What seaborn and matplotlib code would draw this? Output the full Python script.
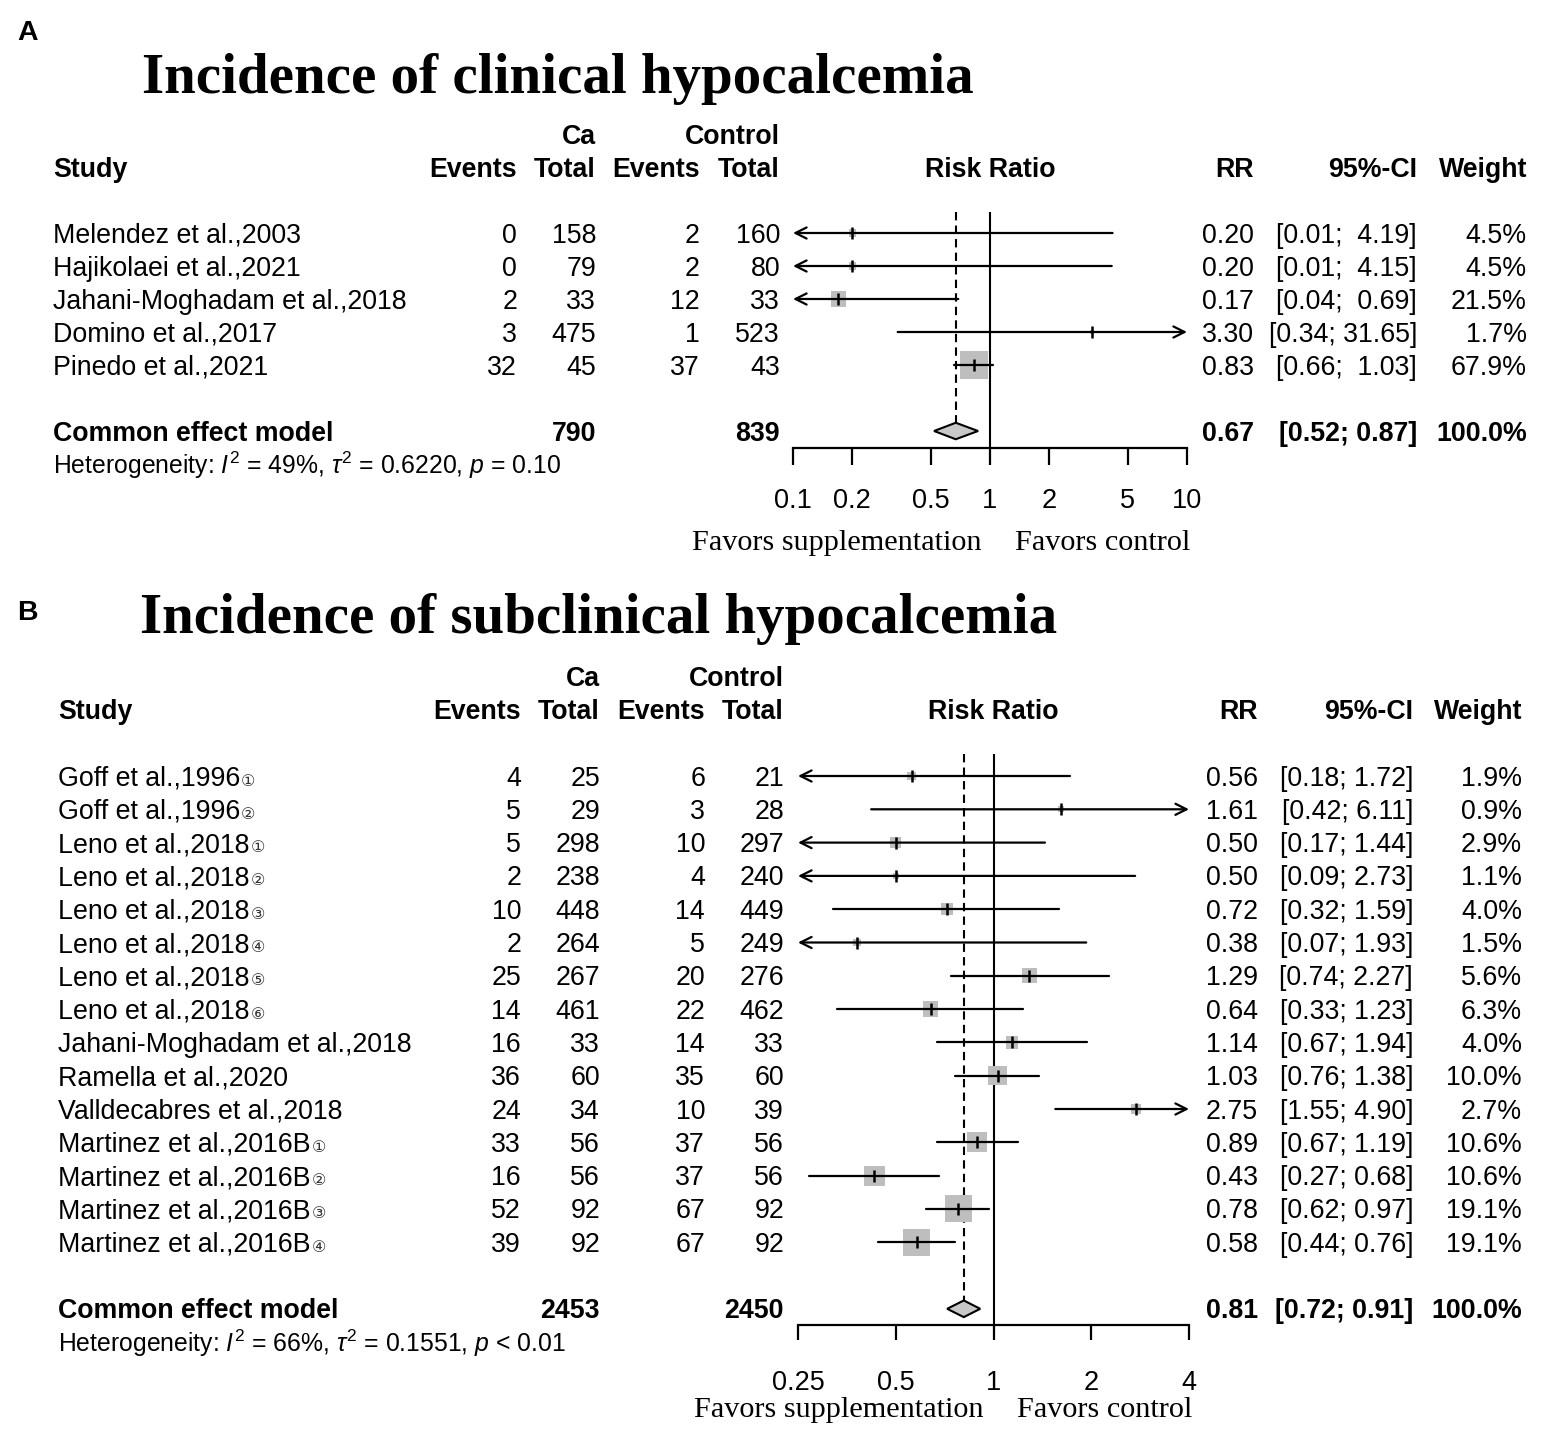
import matplotlib
matplotlib.use("Agg")
import matplotlib.pyplot as plt
import matplotlib.transforms as mtransforms
from matplotlib.patches import Polygon
import seaborn as sns
import numpy as np
import pandas as pd

# ---- panel A: clinical hypocalcemia ----
studies_a = ["Melendez et al.,2003", "Hajikolaei et al.,2021",
             "Jahani-Moghadam et al.,2018", "Domino et al.,2017", "Pinedo et al.,2021"]
marks_a = ["", "", "", "", ""]
ev_ca_a = [0, 0, 2, 3, 32]
tot_ca_a = [158, 79, 33, 475, 45]
ev_ctrl_a = [2, 2, 12, 1, 37]
tot_ctrl_a = [160, 80, 33, 523, 43]
rr_a = [0.20, 0.20, 0.17, 3.30, 0.83]
lo_a = [0.01, 0.01, 0.04, 0.34, 0.66]
hi_a = [4.19, 4.15, 0.69, 31.65, 1.03]
wt_a = [4.5, 4.5, 21.5, 1.7, 67.9]
pooled_a = [0.67, 0.52, 0.87]
totals_a = [790, 839]
het_a = ["49%", "0.6220", "= 0.10"]
ticks_a = [0.1, 0.2, 0.5, 1, 2, 5, 10]

# ---- panel B: subclinical hypocalcemia ----
studies_b = ["Goff et al.,1996", "Goff et al.,1996", "Leno et al.,2018", "Leno et al.,2018",
             "Leno et al.,2018", "Leno et al.,2018", "Leno et al.,2018", "Leno et al.,2018",
             "Jahani-Moghadam et al.,2018", "Ramella et al.,2020", "Valldecabres et al.,2018",
             "Martinez et al.,2016B", "Martinez et al.,2016B", "Martinez et al.,2016B",
             "Martinez et al.,2016B"]
marks_b = ["\u2460", "\u2461", "\u2460", "\u2461", "\u2462", "\u2463", "\u2464", "\u2465",
           "", "", "", "\u2460", "\u2461", "\u2462", "\u2463"]
ev_ca_b = [4, 5, 5, 2, 10, 2, 25, 14, 16, 36, 24, 33, 16, 52, 39]
tot_ca_b = [25, 29, 298, 238, 448, 264, 267, 461, 33, 60, 34, 56, 56, 92, 92]
ev_ctrl_b = [6, 3, 10, 4, 14, 5, 20, 22, 14, 35, 10, 37, 37, 67, 67]
tot_ctrl_b = [21, 28, 297, 240, 449, 249, 276, 462, 33, 60, 39, 56, 56, 92, 92]
rr_b = [0.56, 1.61, 0.50, 0.50, 0.72, 0.38, 1.29, 0.64, 1.14, 1.03, 2.75, 0.89, 0.43, 0.78, 0.58]
lo_b = [0.18, 0.42, 0.17, 0.09, 0.32, 0.07, 0.74, 0.33, 0.67, 0.76, 1.55, 0.67, 0.27, 0.62, 0.44]
hi_b = [1.72, 6.11, 1.44, 2.73, 1.59, 1.93, 2.27, 1.23, 1.94, 1.38, 4.90, 1.19, 0.68, 0.97, 0.76]
wt_b = [1.9, 0.9, 2.9, 1.1, 4.0, 1.5, 5.6, 6.3, 4.0, 10.0, 2.7, 10.6, 10.6, 19.1, 19.1]
pooled_b = [0.81, 0.72, 0.91]
totals_b = [2453, 2450]
het_b = ["66%", "0.1551", "< 0.01"]
ticks_b = [0.25, 0.5, 1, 2, 4]

sns.set_theme(style="white", rc={"text.color": "black", "xtick.color": "black",
                                 "axes.edgecolor": "black", "xtick.bottom": True})
plt.rcParams["font.family"] = ["Liberation Sans", "DejaVu Sans"]
plt.rcParams["mathtext.fontset"] = "custom"
plt.rcParams["mathtext.rm"] = "Liberation Sans"
plt.rcParams["mathtext.it"] = "Liberation Sans:italic"
plt.rcParams["mathtext.bf"] = "Liberation Sans:bold"

W, H = 1544, 1437
fig = plt.figure(figsize=(W / 100, H / 100), dpi=100)
FS = 19.3
GREY = "#BEBEBE"


def fx(px):
    return px / W


def fy(px):
    return 1 - px / H


def fmt_tick(v):
    return ("%g" % v)


def forest(letter, title, lay, study, marks, ev1, n1, ev2, n2, rr, lo, hi, wt,
           pooled, totals, het, ticks):
    n = len(study)
    step = lay["step"]
    top = lay["row0"] - 0.65 * step
    bottom = lay["row0"] + (n + 1.5) * step
    ax = fig.add_axes([fx(lay["x0"]), fy(bottom), fx(lay["x1"] - lay["x0"]), (bottom - top) / H])
    ax.set_xscale("log")
    ax.set_xlim(ticks[0], ticks[-1])
    ax.set_ylim(n + 1.5, -0.65)
    xmin, xmax = ticks[0], ticks[-1]
    rows = np.arange(n)

    df = pd.DataFrame({"rr": rr, "row": rows, "wt": wt})
    k = lay["area"]
    sns.scatterplot(data=df, x="rr", y="row", size="wt", sizes=(k * min(wt), k * max(wt)),
                    marker="s", color=GREY, linewidth=0, legend=False, ax=ax, zorder=2)

    for i in range(n):
        a, b = max(lo[i], xmin), min(hi[i], xmax)
        if lo[i] < xmin:
            ax.annotate("", xy=(xmin, i), xytext=(b, i), annotation_clip=False,
                        arrowprops=dict(arrowstyle="->", lw=1.6, color="black",
                                        shrinkA=0, shrinkB=0, mutation_scale=20))
        elif hi[i] > xmax:
            ax.annotate("", xy=(xmax, i), xytext=(a, i), annotation_clip=False,
                        arrowprops=dict(arrowstyle="->", lw=1.6, color="black",
                                        shrinkA=0, shrinkB=0, mutation_scale=20))
        else:
            ax.plot([a, b], [i, i], color="black", lw=1.6, zorder=3)
    ax.scatter(rr, rows, marker="|", s=70, color="black", linewidths=1.8, zorder=4)

    ax.axvline(1, color="black", lw=1.5, zorder=1)
    est, plo, phi = pooled
    ax.plot([est, est], [-0.65, n + 1 - 0.25], color="black", lw=1.5,
            ls=(0, (4, 2.5)), zorder=1)
    ax.add_patch(Polygon([(plo, n + 1), (est, n + 0.75), (phi, n + 1), (est, n + 1.25)],
                         closed=True, fc="#C8C8C8", ec="black", lw=1.5, zorder=3))

    for s in ["top", "left", "right"]:
        ax.spines[s].set_visible(False)
    ax.spines["bottom"].set_linewidth(1.6)
    ax.set_yticks([])
    ax.set_xticks(ticks)
    ax.set_xticks([], minor=True)
    ax.set_xticklabels([fmt_tick(t) for t in ticks])
    ax.tick_params(axis="x", which="major", bottom=True, direction="out",
                   length=lay["ticklen"], width=1.6, color="black",
                   pad=lay["pad"], labelsize=19.5)
    ax.set_xlabel("")
    ax.set_ylabel("")
    ax.patch.set_alpha(0)

    tr = mtransforms.blended_transform_factory(fig.transFigure, ax.transData) + \
        mtransforms.ScaledTranslation(0, -6.9 / 72, fig.dpi_scale_trans)

    def t(xpx, row, s, ha="right", bold=False, size=FS, **kw):
        return fig.text(fx(xpx), row, s, ha=ha, va="baseline", transform=tr, size=size,
                        weight="bold" if bold else "normal", **kw)

    c = lay["cols"]
    # header
    t(c["tot1"], -3, "Ca", bold=True)
    t(c["tot2"], -3, "Control", bold=True)
    t(c["study"], -2, "Study", ha="left", bold=True)
    t(c["ev1"], -2, "Events", bold=True)
    t(c["tot1"], -2, "Total", bold=True)
    t(c["ev2"], -2, "Events", bold=True)
    t(c["tot2"], -2, "Total", bold=True)
    t((lay["x0"] + lay["x1"]) / 2, -2, "Risk Ratio", ha="center", bold=True)
    t(c["rr"], -2, "RR", bold=True)
    t(c["ci"], -2, "95%-CI", bold=True)
    t(c["wt"], -2, "Weight", bold=True)

    los = ["%.2f" % v for v in lo]
    his = ["%.2f" % v for v in hi]
    wl, wh = max(len(s) for s in los), max(len(s) for s in his)
    names = []
    for i in range(n):
        names.append(t(c["study"], i, study[i], ha="left"))
        t(c["ev1"], i, str(ev1[i]))
        t(c["tot1"], i, str(n1[i]))
        t(c["ev2"], i, str(ev2[i]))
        t(c["tot2"], i, str(n2[i]))
        t(c["rr"], i, "%.2f" % rr[i])
        t(c["ci"], i, "[%s; %s]" % (los[i].rjust(wl), his[i].rjust(wh)))
        t(c["wt"], i, "%.1f%%" % wt[i])

    r = n + 1
    t(c["study"], r, "Common effect model", ha="left", bold=True)
    t(c["tot1"], r, str(totals[0]), bold=True)
    t(c["tot2"], r, str(totals[1]), bold=True)
    t(c["rr"], r, "%.2f" % est, bold=True)
    t(c["ci"], r, "[%.2f; %.2f]" % (plo, phi), bold=True)
    t(c["wt"], r, "100.0%", bold=True)
    t(c["study"], r + 1, r"Heterogeneity: $I^2$ = %s, $\tau^2$ = %s, $p$ %s" % tuple(het),
      ha="left", size=17.8)

    # favors labels
    fig.text(fx(lay["fav_l"]), fy(lay["fav_y"]), "Favors supplementation", ha="right",
             va="baseline", family="Liberation Serif", size=21.8)
    fig.text(fx(lay["fav_r"]), fy(lay["fav_y"]), "Favors control", ha="left",
             va="baseline", family="Liberation Serif", size=21.8)

    # title and panel letter
    fig.text(fx(lay["title_x"]), fy(lay["title_y"]), title, ha="left", va="baseline",
             family="Liberation Serif", weight="bold", size=41)
    fig.text(fx(17), fy(lay["letter_y"]), letter, ha="left", va="baseline",
             weight="bold", size=20.5)
    return names


lay_a = dict(row0=233, step=33.0, x0=793, x1=1187, area=6.0, ticklen=12, pad=17,
             cols=dict(study=53, ev1=517, tot1=596, ev2=700, tot2=780, rr=1254, ci=1417, wt=1527),
             fav_l=981, fav_r=1015, fav_y=550, title_x=142, title_y=93, letter_y=40)
lay_b = dict(row0=776, step=33.3, x0=798, x1=1189, area=19.8, ticklen=11, pad=21,
             cols=dict(study=58, ev1=521, tot1=600, ev2=705, tot2=784, rr=1258, ci=1413, wt=1522),
             fav_l=983, fav_r=1017, fav_y=1417, title_x=140, title_y=633, letter_y=620)

names_a = forest("A", "Incidence of clinical hypocalcemia", lay_a, studies_a, marks_a,
                 ev_ca_a, tot_ca_a, ev_ctrl_a, tot_ctrl_a, rr_a, lo_a, hi_a, wt_a,
                 pooled_a, totals_a, het_a, ticks_a)
names_b = forest("B", "Incidence of subclinical hypocalcemia", lay_b, studies_b, marks_b,
                 ev_ca_b, tot_ca_b, ev_ctrl_b, tot_ctrl_b, rr_b, lo_b, hi_b, wt_b,
                 pooled_b, totals_b, het_b, ticks_b)

# small circled sub-study numbers right after the study names
fig.canvas.draw()
renderer = fig.canvas.get_renderer()
for names, marks in [(names_a, marks_a), (names_b, marks_b)]:
    for txt, m in zip(names, marks):
        if not m:
            continue
        bb = txt.get_window_extent(renderer)
        fig.text(bb.x1 / W + 1 / W, txt.get_position()[1], m, transform=mtransforms.blended_transform_factory(
            fig.transFigure, txt.get_transform()), ha="left", va="baseline",
            family=["DejaVu Sans", "Noto Sans CJK JP"], size=11.5, color="#333333")

fig.savefig("out.png", dpi=100, facecolor="white")
